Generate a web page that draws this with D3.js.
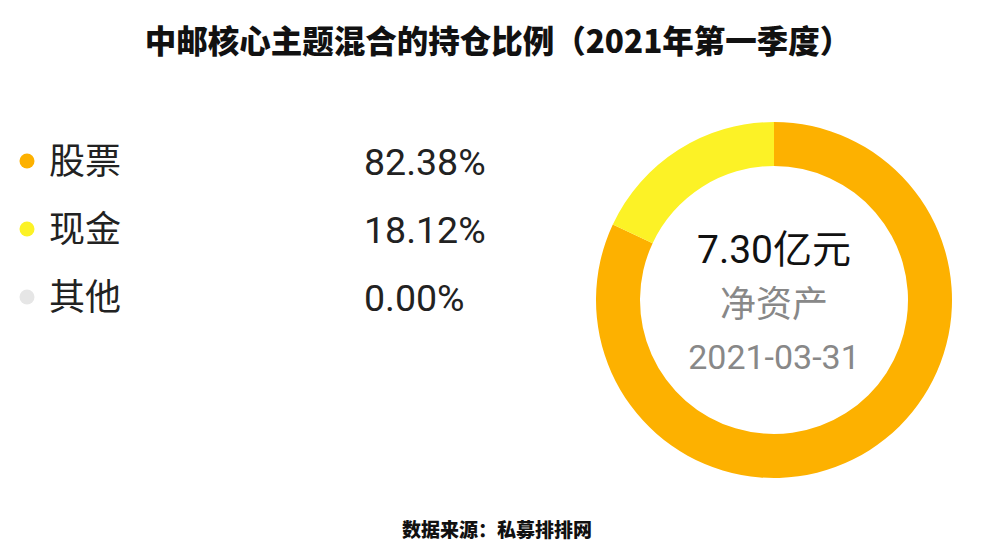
<!DOCTYPE html>
<html><head><meta charset="utf-8">
<script src="https://cdn.jsdelivr.net/npm/d3@7/dist/d3.min.js"></script>
<style>body{margin:0;background:#fff}svg{display:block}</style>
</head><body>
<svg id="c" width="992" height="558"></svg>
<script>
const categories = ["股票", "现金", "其他"];
const values = [82.38, 18.12, 0.00];
const valueLabels = ["82.38%", "18.12%", "0.00%"];
const colors = ["#FDB100", "#FCF226", "#E6E6E6"];
const title = "中邮核心主题混合的持仓比例（2021年第一季度）";
const source = "数据来源：私募排排网";
const centerTexts = ["7.30亿元", "净资产", "2021-03-31"];

const font = "'Noto Sans CJK SC', 'Noto Sans', sans-serif";
const svg = d3.select("#c");

svg.append("text").attr("x", 498).attr("y", 53).attr("text-anchor", "middle")
  .attr("font-family", font).attr("font-weight", 900).attr("font-size", 31.5)
  .attr("fill", "#111").text(title);

svg.append("text").attr("x", 497).attr("y", 537).attr("text-anchor", "middle")
  .attr("font-family", font).attr("font-weight", 900).attr("font-size", 19)
  .attr("fill", "#111").text(source);

const rowY = d3.scalePoint().domain(categories).range([161, 297]);
const leg = svg.append("g").selectAll("g").data(categories).join("g")
  .attr("transform", d => `translate(0,${rowY(d)})`);
leg.append("circle").attr("cx", 27).attr("r", 7.5).attr("fill", (d, i) => colors[i]);
leg.append("text").attr("x", 49).attr("dy", "0.36em").attr("font-family", font)
  .attr("font-size", 36).attr("fill", "#222").text(d => d);
leg.append("text").attr("x", 364).attr("dy", "0.36em").attr("font-family", "Roboto, 'Noto Sans', sans-serif")
  .attr("font-size", 37.5).attr("fill", "#222").text((d, i) => valueLabels[i]);

const cx = 774, cy = 300;
const pie = d3.pie().sort(null).value(d => d);
const arc = d3.arc().innerRadius(134).outerRadius(178);
const g = svg.append("g").attr("transform", `translate(${cx},${cy})`);
g.selectAll("path").data(pie(values)).join("path")
  .attr("d", arc).attr("fill", (d, i) => colors[i]);

g.append("text").attr("y", -51).attr("text-anchor", "middle").attr("dy", "0.36em")
  .attr("font-family", "Roboto, 'Noto Sans CJK SC', sans-serif").attr("font-size", 39).attr("fill", "#111").text(centerTexts[0]);
g.append("text").attr("y", 4).attr("text-anchor", "middle").attr("dy", "0.36em")
  .attr("font-family", font).attr("font-size", 36).attr("fill", "#888").text(centerTexts[1]);
g.append("text").attr("y", 57).attr("text-anchor", "middle").attr("dy", "0.36em")
  .attr("font-family", "Roboto, 'Noto Sans', sans-serif").attr("font-size", 34).attr("fill", "#888").text(centerTexts[2]);
</script>
</body></html>
